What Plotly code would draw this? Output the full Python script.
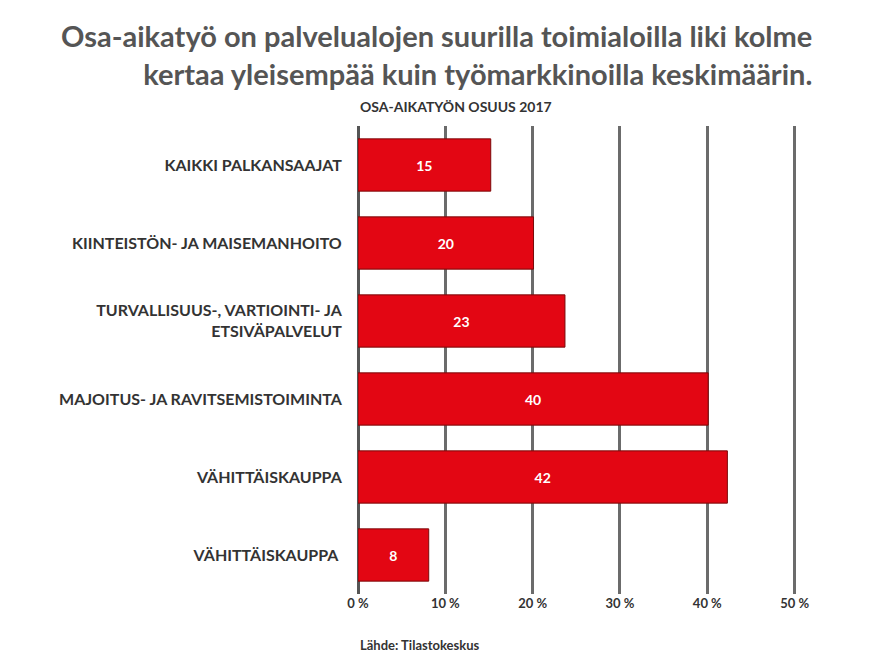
import plotly.graph_objects as go

categories = ["KAIKKI PALKANSAAJAT", "KIINTEISTÖN- JA MAISEMANHOITO",
              "TURVALLISUUS-, VARTIOINTI- JA<br>ETSIVÄPALVELUT",
              "MAJOITUS- JA RAVITSEMISTOIMINTA", "VÄHITTÄISKAUPPA", "VÄHITTÄISKAUPPA "]
values = [15, 20, 23, 40, 42, 8]
bar_lengths = [15.2, 20.1, 23.7, 40.1, 42.3, 8.1]
tick_vals = [0, 10, 20, 30, 40, 50]
tick_text = ["0 %", "10 %", "20 %", "30 %", "40 %", "50 %"]

FONT = "Lato"
fig = go.Figure(go.Bar(
    y=categories, x=bar_lengths, orientation="h",
    marker=dict(color="#e30613", line=dict(color="#7a0a0a", width=1)),
    text=["<b>%d</b>" % v for v in values], textposition="inside", insidetextanchor="middle",
    textfont=dict(color="white", size=14, family=FONT),
    hoverinfo="skip",
))
fig.update_layout(
    width=874, height=666, margin=dict(l=350, r=83, t=118, b=80, autoexpand=False),
    paper_bgcolor="white", plot_bgcolor="white", bargap=0.33, showlegend=False,
    font=dict(family=FONT, color="#333"),
    xaxis=dict(range=[0, 50.5], tickvals=tick_vals, ticktext=tick_text,
               showgrid=True, gridcolor="#6b6b6b", gridwidth=3,
               zeroline=True, zerolinecolor="#555", zerolinewidth=3,
               tickfont=dict(size=13, family=FONT, color="#333", weight="bold"), ticks="", fixedrange=True),
    yaxis=dict(autorange="reversed", tickfont=dict(size=16, family=FONT, color="#333", weight="bold"),
               ticks="outside", ticklen=12, tickcolor="white", showgrid=False),
    annotations=[
        dict(text="<b>Osa-aikatyö on palvelualojen suurilla toimialoilla liki kolme<br>kertaa yleisempää kuin työmarkkinoilla keskimäärin.</b>",
             xref="paper", yref="paper", x=(806-350)/441, y=1, yshift=110, xanchor="right", yanchor="top",
             align="right", showarrow=False, font=dict(size=29, family=FONT, color="#555")),
        dict(text="<b>OSA-AIKATYÖN OSUUS 2017</b>", xref="paper", yref="paper", x=0, y=1, yshift=20,
             xanchor="left", yanchor="middle", showarrow=False, font=dict(size=14, family=FONT, color="#333")),
        dict(text="<b>Lähde: Tilastokeskus</b>", xref="paper", yref="paper", x=0, y=0, yshift=-51,
             xanchor="left", yanchor="middle", showarrow=False, font=dict(size=13, family=FONT, color="#333")),
    ],
)
fig.write_html("out.html")
